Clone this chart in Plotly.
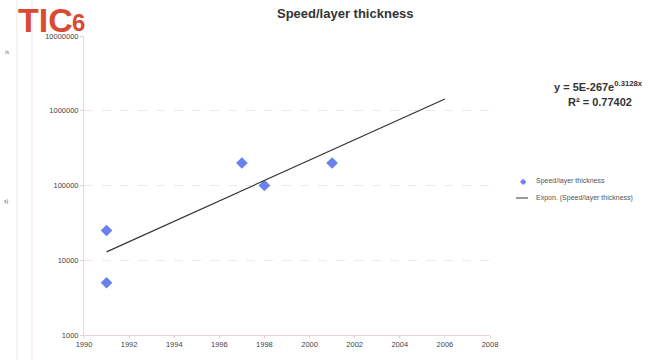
import numpy as np
import plotly.graph_objects as go

years = [1991, 1991, 1997, 1998, 2001]
speed_per_layer = [25000, 5000, 200000, 100000, 200000]
trend_x = [1991, 2006]
x_ticks = [1990, 1992, 1994, 1996, 1998, 2000, 2002, 2004, 2006, 2008]
y_ticks = [1000, 10000, 100000, 1000000, 10000000]

# Exponential (log-linear) trendline fitted to the data
b, a = np.polyfit(np.array(years, float), np.log(speed_per_layer), 1)
tx = np.linspace(trend_x[0], trend_x[1], 50)
ty = np.exp(a + b * tx)

W, H = 655, 360
L, R, T, B = 84, 165, 36, 25
PW, PH = W - L - R, H - T - B


def px(x):
    return (x - L) / PW


def py(y):
    return (H - B - y) / PH


MARK = "#6b80ee"
RED = "#d94a33"
fig = go.Figure()
fig.add_trace(go.Scatter(
    x=years, y=speed_per_layer, mode="markers", name="Speed/layer thickness",
    marker=dict(symbol="diamond", size=9, color=MARK),
))
fig.add_trace(go.Scatter(
    x=tx, y=ty, mode="lines", name="Expon. (Speed/layer thickness)",
    line=dict(color="#333333", width=1.2),
))

fig.update_layout(
    width=W, height=H,
    margin=dict(l=L, r=R, t=T, b=B),
    paper_bgcolor="white", plot_bgcolor="white",
    font=dict(family="Liberation Sans, Arial", color="#555555"),
    showlegend=False,
    xaxis=dict(range=[1990, 2008], tickvals=x_ticks, ticktext=[str(v) for v in x_ticks],
               showgrid=False, zeroline=False, showline=True, linecolor="#ead3d9",
               tickfont=dict(size=7.5, color="#444444"), ticks="outside", ticklen=2,
               tickcolor="#e6ccd3"),
    yaxis=dict(type="log", range=[3, 7], tickvals=y_ticks, ticktext=[str(v) for v in y_ticks],
               showgrid=True, gridcolor="#f3e6e9", griddash="dash", gridwidth=1,
               zeroline=False, showline=True, linecolor="#ead3d9",
               tickfont=dict(size=7.5, color="#444444"), ticks="outside", ticklen=3,
               tickcolor="#e6ccd3"),
)

# faint vertical lines at the far left
for xl in (17, 32):
    fig.add_shape(type="line", xref="paper", yref="paper", x0=px(xl), x1=px(xl),
                  y0=py(360), y1=py(0), line=dict(color="#f5e2e7", width=1))

fig.add_annotation(xref="paper", yref="paper", x=px(345), y=py(13), xanchor="center",
                   yanchor="middle",
                   text="<b>Speed/layer thickness</b>", showarrow=False,
                   font=dict(size=13, color="#333333"))
fig.add_annotation(xref="paper", yref="paper", x=px(598), y=py(86), xanchor="center",
                   yanchor="middle",
                   text="<b>y = 5E-267e<sup>0.3128x</sup></b>", showarrow=False,
                   font=dict(size=11, color="#333333"))
fig.add_annotation(xref="paper", yref="paper", x=px(600), y=py(102), xanchor="center",
                   yanchor="middle",
                   text="<b>R² = 0.77402</b>", showarrow=False,
                   font=dict(size=11, color="#333333"))
# logo
fig.add_annotation(xref="paper", yref="paper", x=px(17), y=py(0), xanchor="left",
                   yanchor="top", text="<b>TIC</b>", showarrow=False, borderpad=0,
                   font=dict(size=34, color=RED, family="Liberation Sans, Arial"))
fig.add_annotation(xref="paper", yref="paper", x=px(71), y=py(8), xanchor="left",
                   yanchor="top", text="<b>6</b>", showarrow=False, borderpad=0,
                   font=dict(size=24, color=RED, family="Liberation Sans, Arial"))
fig.add_annotation(xref="paper", yref="paper", x=px(3), y=py(52), xanchor="left",
                   yanchor="middle", text="/s", showarrow=False,
                   font=dict(size=5, color="#555555"))
fig.add_annotation(xref="paper", yref="paper", x=px(2), y=py(201), xanchor="left",
                   yanchor="middle", text="s)", showarrow=False,
                   font=dict(size=5, color="#555555"))

# legend drawn beside the plot
fig.add_annotation(xref="paper", yref="paper", x=px(523), y=py(181), xanchor="center",
                   yanchor="middle", text="◆", showarrow=False,
                   font=dict(size=8, color=MARK))
fig.add_shape(type="line", xref="paper", yref="paper", x0=px(516), x1=px(528),
              y0=py(198), y1=py(198), line=dict(color="#333333", width=1))
fig.add_annotation(xref="paper", yref="paper", x=px(534), y=py(181), xanchor="left",
                   yanchor="middle", text="Speed/layer thickness", showarrow=False,
                   font=dict(size=7, color="#555555"))
fig.add_annotation(xref="paper", yref="paper", x=px(534), y=py(198), xanchor="left",
                   yanchor="middle", text="Expon. (Speed/layer thickness)", showarrow=False,
                   font=dict(size=7, color="#555555"))

fig.write_html("out.html", config={"displayModeBar": False},
               post_script="document.body.style.margin='0';document.body.style.overflow='hidden';")
